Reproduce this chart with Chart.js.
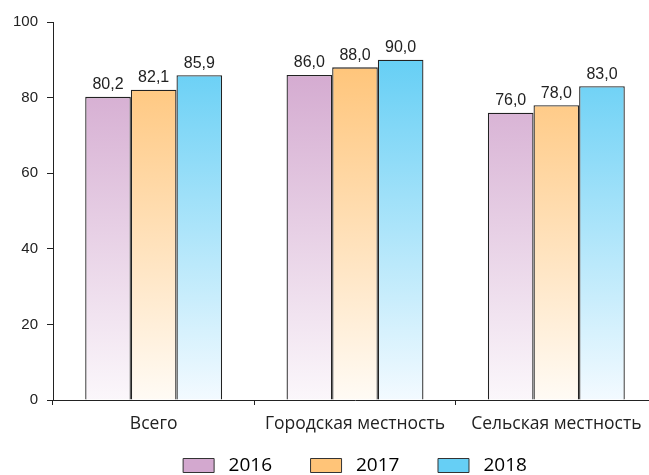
<!DOCTYPE html>
<html>
<head>
<meta charset="utf-8">
<script src="https://cdn.jsdelivr.net/npm/chart.js@4.4.1/dist/chart.umd.min.js"></script>
<style>
  html, body { margin: 0; padding: 0; background: #fff; overflow: hidden; }
  #wrap { width: 710px; height: 485px; position: relative; }
</style>
</head>
<body>
<div id="wrap"><canvas id="chart"></canvas></div>
<script>
const categories = ['Всего', 'Городская местность', 'Сельская местность'];
const years = ['2016', '2017', '2018'];
const values2016 = [80.2, 86.0, 76.0];
const values2017 = [82.1, 88.0, 78.0];
const values2018 = [85.9, 90.0, 83.0];
const topColors = ['#d3a8cf', '#ffc478', '#66cff5'];
const bottomColors = ['#fbf7fb', '#fffbf5', '#f3faff'];

function gradientFor(i) {
  return (ctx) => {
    const area = ctx.chart.chartArea;
    if (!area) return topColors[i];
    const yTop = ctx.chart.scales.y.getPixelForValue(90);
    const g = ctx.chart.ctx.createLinearGradient(0, yTop, 0, area.bottom);
    g.addColorStop(0, topColors[i]);
    g.addColorStop(1, bottomColors[i]);
    return g;
  };
}

const valueLabels = {
  id: 'valueLabels',
  afterDatasetsDraw(chart) {
    const ctx = chart.ctx;
    ctx.save();
    ctx.font = '16px "Liberation Sans", Arial, sans-serif';
    ctx.fillStyle = '#222';
    ctx.textAlign = 'center';
    ctx.textBaseline = 'bottom';
    chart.data.datasets.forEach((ds, i) => {
      chart.getDatasetMeta(i).data.forEach((bar, j) => {
        const txt = ds.data[j].toFixed(1).replace('.', ',');
        ctx.fillText(txt, bar.x, bar.y - 4);
      });
    });
    ctx.restore();
  }
};

const allSeries = [values2016, values2017, values2018];

new Chart(document.getElementById('chart'), {
  type: 'bar',
  data: {
    labels: categories,
    datasets: years.map((y, i) => ({
      label: y,
      data: allSeries[i],
      backgroundColor: gradientFor(i),
      borderColor: '#222',
      borderWidth: 1.3,
      categoryPercentage: 0.68,
      barPercentage: 1.0
    }))
  },
  options: {
    responsive: true,
    maintainAspectRatio: false,
    animation: false,
    layout: { padding: { top: 22, bottom: 0 } },
    plugins: {
      tooltip: { enabled: false },
      legend: {
        position: 'bottom',
        labels: {
          boxWidth: 31,
          boxHeight: 14,
          padding: 4,
          color: '#222',
          font: { family: '"Open Sans", sans-serif', size: 19 },
          generateLabels(chart) {
            return years.map((y, i) => ({
              text: ' ' + y + (i < years.length - 1 ? '       ' : ''),
              fillStyle: topColors[i],
              strokeStyle: '#333',
              lineWidth: 1,
              datasetIndex: i
            }));
          }
        }
      }
    },
    scales: {
      x: {
        offset: true,
        afterFit(s) { s.height = 52; },
        grid: { display: true, offset: true, drawOnChartArea: false, tickLength: 5, color: '#222' },
        border: { color: '#222' },
        ticks: { color: '#222', padding: 9, font: { family: '"Open Sans", sans-serif', size: 17.5 } }
      },
      y: {
        min: 0,
        max: 100,
        afterFit(s) { s.width = 53; },
        grid: { display: true, drawOnChartArea: false, tickLength: 6, color: '#222' },
        border: { color: '#222' },
        ticks: { stepSize: 20, color: '#222', padding: 9, font: { family: '"Liberation Sans", Arial, sans-serif', size: 15 } }
      },
      yR: {
        position: 'right',
        display: true,
        afterFit(s) { s.width = 53; },
        grid: { display: false },
        border: { display: false },
        ticks: { display: false }
      }
    }
  },
  plugins: [valueLabels]
});
</script>
</body>
</html>
